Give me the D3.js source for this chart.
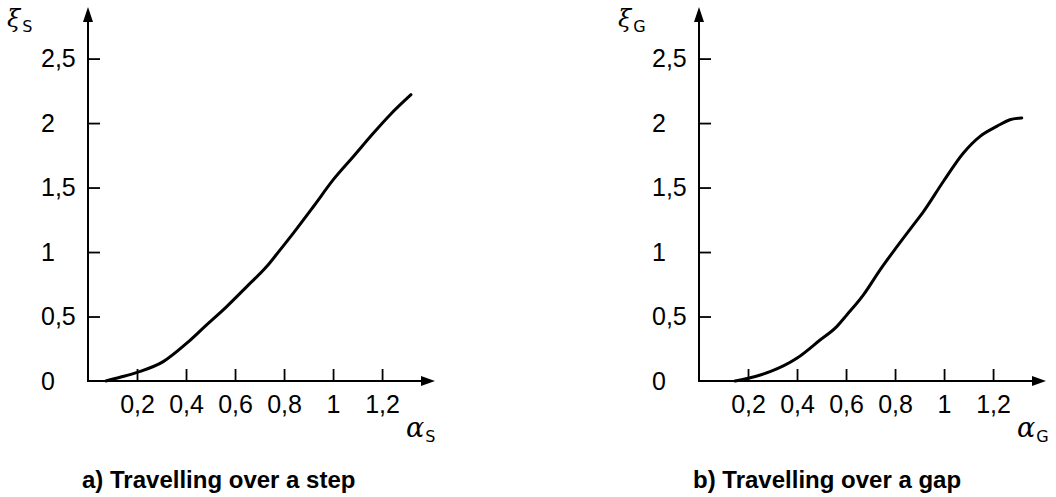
<!DOCTYPE html>
<html>
<head>
<meta charset="utf-8">
<script src="https://cdnjs.cloudflare.com/ajax/libs/d3/7.8.5/d3.min.js"></script>
<style>
  body { margin: 0; background: #fff; }
  svg { display: block; }
  .tick text { font-family: "Liberation Sans", Arial, sans-serif; font-size: 25px; fill: #000; }
</style>
</head>
<body>
<div class="chart"></div>
<script>
// left panel: travelling over a step
const stepAlpha = [0.073, 0.131, 0.201, 0.307, 0.403, 0.484, 0.566, 0.648, 0.729, 0.784, 0.838, 0.920, 1.001, 1.083, 1.165, 1.233, 1.318];
const stepXi    = [0.0, 0.029, 0.067, 0.150, 0.293, 0.435, 0.577, 0.732, 0.887, 1.017, 1.147, 1.353, 1.561, 1.741, 1.923, 2.065, 2.220];

// right panel: travelling over a gap
const gapAlpha = [0.147, 0.201, 0.290, 0.399, 0.494, 0.562, 0.603, 0.671, 0.739, 0.793, 0.875, 0.916, 0.997, 1.079, 1.147, 1.215, 1.269, 1.317];
const gapXi    = [0.0, 0.021, 0.072, 0.176, 0.318, 0.422, 0.512, 0.668, 0.862, 1.004, 1.211, 1.314, 1.547, 1.768, 1.897, 1.974, 2.026, 2.040];

const xTicks = [0.2, 0.4, 0.6, 0.8, 1, 1.2];
const yTicks = [0, 0.5, 1, 1.5, 2, 2.5];
const fmt = d => String(d).replace(".", ",");

const width = 1056, height = 497;

const svg = d3.select(".chart").append("svg")
    .attr("width", width)
    .attr("height", height);

svg.append("rect").attr("width", width).attr("height", height).attr("fill", "#fff");

function drawPanel(ox, alpha, xi, sub, title)
{
    let x = d3.scaleLinear().domain([0, 1.416]).range([ox, ox + 347]);
    let y = d3.scaleLinear().domain([0, 2.9]).range([381, 7]);
    let g = svg.append("g");

    // x ticks point up into the plot
    let xAxis = g.append("g")
        .attr("transform", "translate(0," + y(0) + ")")
        .call(d3.axisBottom(x).tickValues(xTicks).tickFormat(fmt)
            .tickSizeInner(-12).tickSizeOuter(0).tickPadding(14));
    xAxis.select(".domain").remove();
    xAxis.selectAll(".tick line").attr("stroke", "#000").attr("stroke-width", 1.8);

    // y ticks point right, labels left aligned
    let yAxis = g.append("g")
        .attr("transform", "translate(" + x(0) + ",0)")
        .call(d3.axisLeft(y).tickValues(yTicks).tickFormat(fmt)
            .tickSizeInner(-12).tickSizeOuter(0));
    yAxis.select(".domain").remove();
    yAxis.selectAll(".tick line").attr("stroke", "#000").attr("stroke-width", 1.8);
    yAxis.selectAll(".tick line").filter(d => d === 0).remove();
    yAxis.selectAll(".tick text").attr("text-anchor", "start").attr("x", -47);

    // axis lines with arrow heads
    g.append("line")
        .attr("x1", x(0)).attr("x2", x(1.416) - 8)
        .attr("y1", y(0)).attr("y2", y(0))
        .attr("stroke", "#000").attr("stroke-width", 2);
    g.append("path")
        .attr("d", `M${x(1.416)},${y(0)} L${x(1.416) - 14},${y(0) - 5} L${x(1.416) - 14},${y(0) + 5} Z`)
        .attr("fill", "#000");
    g.append("line")
        .attr("x1", x(0)).attr("x2", x(0))
        .attr("y1", y(0) + 1).attr("y2", y(2.9) + 8)
        .attr("stroke", "#000").attr("stroke-width", 2);
    g.append("path")
        .attr("d", `M${x(0)},${y(2.9)} L${x(0) - 5},${y(2.9) + 15} L${x(0) + 5},${y(2.9) + 15} Z`)
        .attr("fill", "#000");

    // the curve
    let pts = alpha.map((a, i) => [a, xi[i]]);
    g.append("path")
        .datum(pts)
        .attr("fill", "none")
        .attr("stroke", "#000")
        .attr("stroke-width", 3)
        .attr("stroke-linecap", "round")
        .attr("d", d3.line().x(d => x(d[0])).y(d => y(d[1])).curve(d3.curveMonotoneX));

    // axis names
    let yl = g.append("text").attr("x", x(0) - 81).attr("y", 27);
    yl.append("tspan").text("ξ")
        .attr("font-family", "DejaVu Serif, serif").attr("font-style", "italic").attr("font-size", 24);
    yl.append("tspan").text(sub).attr("dx", 2).attr("dy", 5)
        .attr("font-family", "DejaVu Sans, sans-serif").attr("font-size", 16);

    let xl = g.append("text").attr("x", x(0) + 318).attr("y", 437);
    xl.append("tspan").text("α")
        .attr("font-family", "DejaVu Serif, serif").attr("font-style", "italic").attr("font-size", 27);
    xl.append("tspan").text(sub).attr("dx", 1).attr("dy", 5)
        .attr("font-family", "DejaVu Sans, sans-serif").attr("font-size", 16);

    g.append("text")
        .attr("x", x(0) - 6).attr("y", 488)
        .attr("font-family", "Liberation Sans, Arial, sans-serif")
        .attr("font-weight", "bold").attr("font-size", 24)
        .text(title);
}

drawPanel(88, stepAlpha, stepXi, "S", "a) Travelling over a step");
drawPanel(699, gapAlpha, gapXi, "G", "b) Travelling over a gap");
</script>
</body>
</html>
